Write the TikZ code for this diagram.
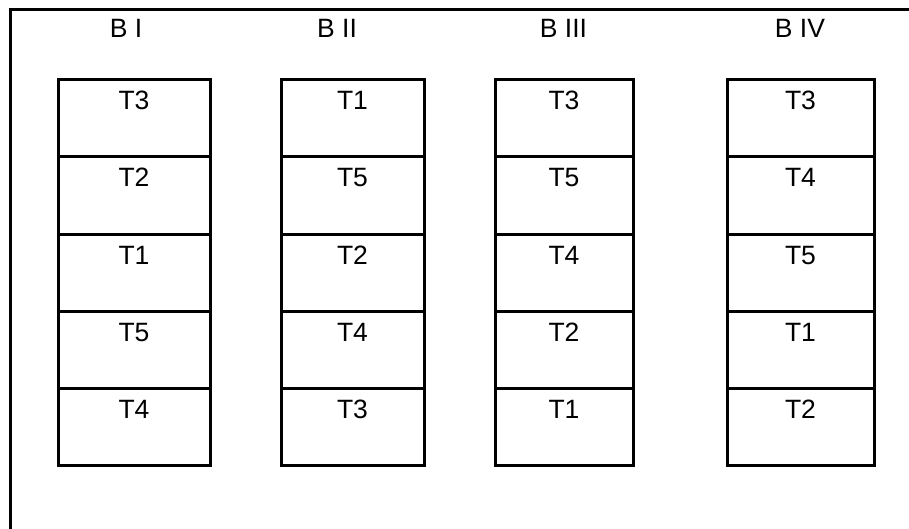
\documentclass[tikz,border=0pt]{standalone}
\usepackage{fontspec}
\setmainfont{Liberation Sans}
\usetikzlibrary{positioning}

\begin{document}
\begin{tikzpicture}[
    x=1pt, y=-1pt,
    node distance=0pt,
    plotcell/.style={draw, line width=3pt, outer sep=0pt, inner sep=0pt,
                     minimum width=#1, text height=30pt, text depth=47pt,
                     font=\fontsize{26.5}{30}\selectfont},
    blocklabel/.style={anchor=base, font=\fontsize{26.5}{30}\selectfont}
  ]
  \useasboundingbox (0,0) rectangle (909,529);
  \draw[line width=3pt] (10,529) -- (10,10) -- (909,10);

  % block I
  \node[blocklabel] (bI) at (126,38) {B I};
  \node[plotcell=152pt, anchor=north] (bIa) at (134,80) {T3};
  \node[plotcell=152pt, below=of bIa] (bIb) {T2};
  \node[plotcell=152pt, below=of bIb] (bIc) {T1};
  \node[plotcell=152pt, below=of bIc] (bId) {T5};
  \node[plotcell=152pt, below=of bId] (bIe) {T4};

  % block II
  \node[blocklabel] (bII) at (337,38) {B II};
  \node[plotcell=143pt, anchor=north] (bIIa) at (352.5,80) {T1};
  \node[plotcell=143pt, below=of bIIa] (bIIb) {T5};
  \node[plotcell=143pt, below=of bIIb] (bIIc) {T2};
  \node[plotcell=143pt, below=of bIIc] (bIId) {T4};
  \node[plotcell=143pt, below=of bIId] (bIIe) {T3};

  % block III
  \node[blocklabel] (bIII) at (563.5,38) {B III};
  \node[plotcell=138pt, anchor=north] (bIIIa) at (564,80) {T3};
  \node[plotcell=138pt, below=of bIIIa] (bIIIb) {T5};
  \node[plotcell=138pt, below=of bIIIb] (bIIIc) {T4};
  \node[plotcell=138pt, below=of bIIIc] (bIIId) {T2};
  \node[plotcell=138pt, below=of bIIId] (bIIIe) {T1};

  % block IV
  \node[blocklabel] (bIV) at (800,38) {B IV};
  \node[plotcell=147pt, anchor=north] (bIVa) at (800.5,80) {T3};
  \node[plotcell=147pt, below=of bIVa] (bIVb) {T4};
  \node[plotcell=147pt, below=of bIVb] (bIVc) {T5};
  \node[plotcell=147pt, below=of bIVc] (bIVd) {T1};
  \node[plotcell=147pt, below=of bIVd] (bIVe) {T2};
\end{tikzpicture}
\end{document}
